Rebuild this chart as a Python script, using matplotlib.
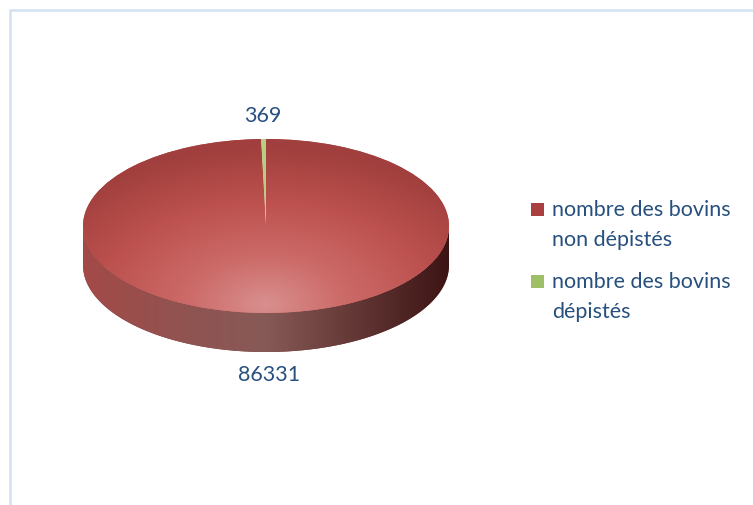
import numpy as np
import matplotlib.pyplot as plt
from matplotlib.patches import Rectangle, Polygon
from matplotlib.colors import LinearSegmentedColormap

# data
labels = ['nombre des bovins\nnon dépistés', 'nombre des bovins\ndépistés']
values = [86331, 369]
colors = ['#B94C4A', '#B7CE82']
txt_color = '#27507F'

W, H = 753, 505
fig = plt.figure(figsize=(W / 100, H / 100), dpi=100)
ax = fig.add_axes([0, 0, 1, 1])

# pixel geometry of the pie (centre, semi axes, depth)
cx, cy = 266, 226
rx, ry = 183, 87
depth = 39 / ry

# side of the cylinder (drawn first, under the top)
t = np.linspace(np.pi, 2 * np.pi, 200)
xs = np.concatenate([np.cos(t), np.cos(t[::-1])])
ys = np.concatenate([np.sin(t), np.sin(t[::-1]) - depth])
side = Polygon(np.column_stack([xs, ys]), closed=True, facecolor='#7A3A39',
               edgecolor='none', zorder=1)
ax.add_patch(side)
side_cmap = LinearSegmentedColormap.from_list('side', [
    (0.0, (0.64, 0.29, 0.28)), (0.3, (0.56, 0.33, 0.32)), (0.5, (0.53, 0.35, 0.34)),
    (0.72, (0.40, 0.23, 0.22)), (1.0, (0.24, 0.08, 0.08))])
grad = np.linspace(0, 1, 256)[None, :]
im = ax.imshow(grad, extent=[-1, 1, -1 - depth, 0], cmap=side_cmap, aspect='auto',
               zorder=2, interpolation='bilinear')
im.set_clip_path(side)

# top of the pie
fs = 15.5
wedges, texts = ax.pie(values, colors=colors, startangle=90, counterclock=False,
                       labels=[str(v) for v in values], labeldistance=1.27,
                       wedgeprops=dict(linewidth=0, zorder=3),
                       textprops=dict(color=txt_color, fontsize=fs, family='Lato'))
for w in wedges:
    w.set_zorder(3)
for tx in texts:
    x, y = tx.get_position()
    if y < 0:
        tx.set_position((x, y - depth))
    tx.set_ha('center')
    tx.set_va('center')

# radial shading on the red top
top_cmap = LinearSegmentedColormap.from_list('top', [
    (0.0, (0.85, 0.56, 0.56)), (0.3, (0.80, 0.42, 0.41)), (0.65, (0.74, 0.32, 0.31)),
    (1.0, (0.63, 0.25, 0.24))])
gx, gy = np.meshgrid(np.linspace(-1, 1, 300), np.linspace(-1, 1, 300))
rr = np.sqrt((gx / 1.4) ** 2 + ((gy + 0.9) / 1.8) ** 2)
im2 = ax.imshow(np.clip(rr, 0, 1), extent=[-1, 1, -1, 1], origin='lower', cmap=top_cmap,
                vmin=0, vmax=1, aspect='auto', zorder=4, interpolation='bilinear')
im2.set_clip_path(wedges[0])
wedges[1].set_zorder(5)

ax.set_xlim(-cx / rx, (W - cx) / rx)
ax.set_ylim(-(H - cy) / ry, cy / ry)
ax.set_aspect('auto')
ax.axis('off')

# legend (handle aligned with first line of each label)
leg_y = [210, 282]
for lab, col, yy in zip(labels, ['#A9403F', '#9FBE68'], leg_y):
    fig.patches.append(Rectangle((531 / W, 1 - (yy + 6) / H), 13 / W, 13 / H,
                                 transform=fig.transFigure, facecolor=col,
                                 edgecolor='none'))
    fig.text(552 / W, 1 - (yy - 10) / H, lab, color=txt_color, fontsize=fs,
             family='Lato', va='top', ha='left', linespacing=1.6)

# chart border
fig.patches.append(Rectangle((10 / W, -0.1), 1.2, 1 - 10 / H + 0.1,
                             transform=fig.transFigure, facecolor='none',
                             edgecolor='#D6E3F3', linewidth=2))

plt.savefig('out.png', dpi=100)
